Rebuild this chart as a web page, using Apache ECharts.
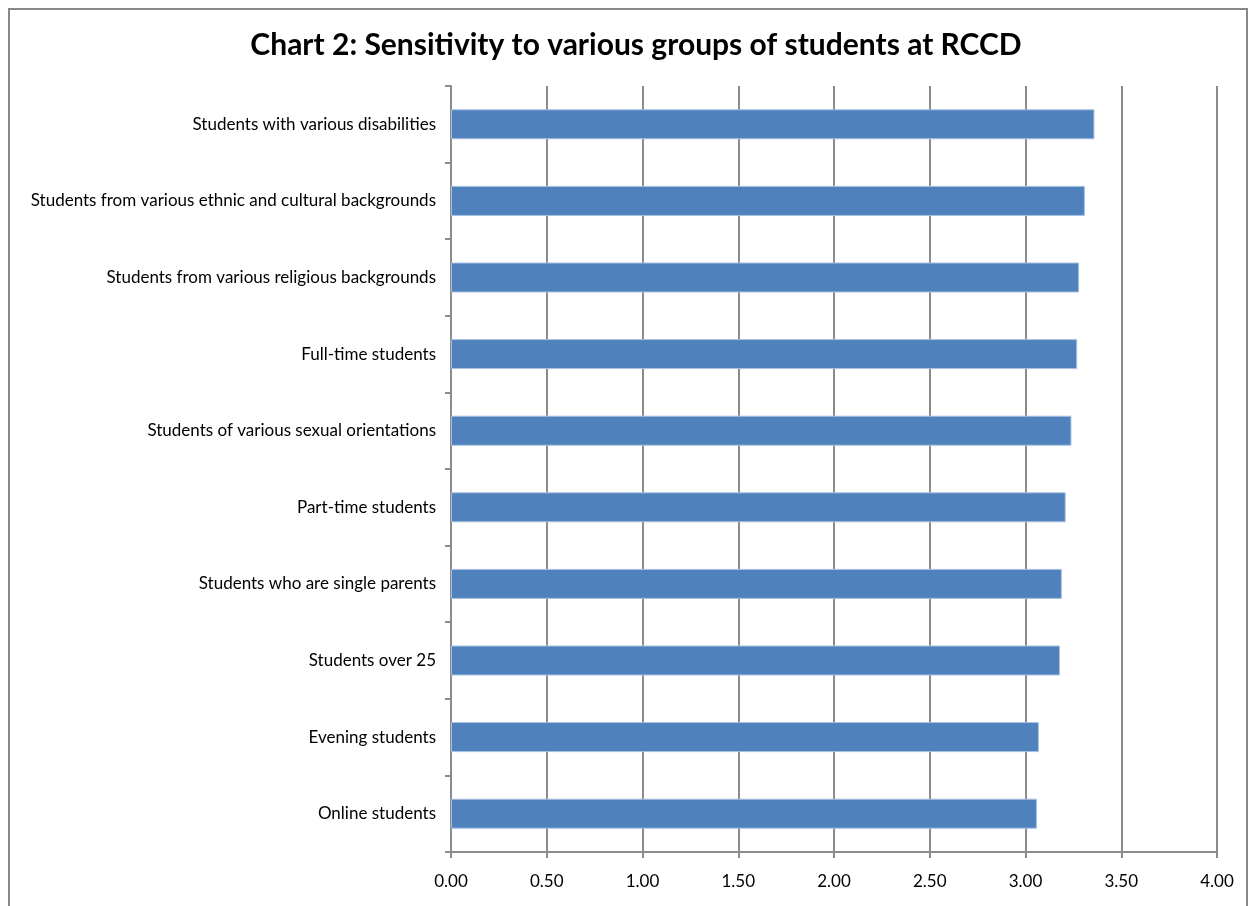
<!DOCTYPE html>
<html>
<head>
<meta charset="utf-8">
<script src="https://cdn.jsdelivr.net/npm/echarts@6/dist/echarts.min.js"></script>
<style>
  html, body { margin: 0; padding: 0; background: #ffffff; }
  #chart { width: 1250px; height: 906px; }
</style>
</head>
<body>
<div id="chart"></div>
<script>
// Student groups, listed top to bottom
const groups = [
  'Students with various disabilities',
  'Students from various ethnic and cultural backgrounds',
  'Students from various religious backgrounds',
  'Full-time students',
  'Students of various sexual orientations',
  'Part-time students',
  'Students who are single parents',
  'Students over 25',
  'Evening students',
  'Online students'
];
// Mean sensitivity rating per group
const ratings = [3.36, 3.31, 3.28, 3.27, 3.24, 3.21, 3.19, 3.18, 3.07, 3.06];
// Value axis ticks
const xTicks = [0, 0.5, 1, 1.5, 2, 2.5, 3, 3.5, 4];

const font = 'Lato, "Liberation Sans", sans-serif';
const lineGray = '#8c8c8c';

const chart = echarts.init(document.getElementById('chart'), null, { renderer: 'canvas' });
chart.setOption({
  animation: false,
  backgroundColor: '#ffffff',
  title: {
    text: 'Chart 2: Sensitivity to various groups of students at RCCD',
    left: 631,
    top: 25,
    textAlign: 'center',
    textStyle: { fontFamily: font, fontWeight: 'bold', fontSize: 30, color: '#000000' }
  },
  graphic: [{
    type: 'rect',
    shape: { x: 9, y: 9, width: 1238, height: 910 },
    style: { fill: 'none', stroke: '#888888', lineWidth: 2 },
    silent: true
  }],
  grid: { left: 451, right: 33, top: 86, bottom: 54, containLabel: false },
  xAxis: {
    type: 'value',
    min: xTicks[0],
    max: xTicks[xTicks.length - 1],
    interval: 0.5,
    axisLine: { show: true, lineStyle: { color: lineGray, width: 2 } },
    axisTick: { show: true, length: 6, lineStyle: { color: lineGray, width: 2 } },
    splitLine: { show: true, lineStyle: { color: lineGray, width: 2 } },
    axisLabel: {
      margin: 21,
      fontFamily: font, fontSize: 17, color: '#000000',
      formatter: v => v.toFixed(2)
    }
  },
  yAxis: {
    type: 'category',
    data: groups,
    inverse: true,
    axisLine: { show: true, lineStyle: { color: lineGray, width: 2 } },
    axisTick: { show: true, length: 6, alignWithLabel: false, lineStyle: { color: lineGray, width: 2 } },
    axisLabel: { margin: 15, fontFamily: font, fontSize: 17, color: '#000000' }
  },
  series: [{
    type: 'bar',
    data: ratings,
    barWidth: 30,
    itemStyle: { color: '#4f81bd', borderColor: '#a9c1e0', borderWidth: 1 }
  }]
});
</script>
</body>
</html>
